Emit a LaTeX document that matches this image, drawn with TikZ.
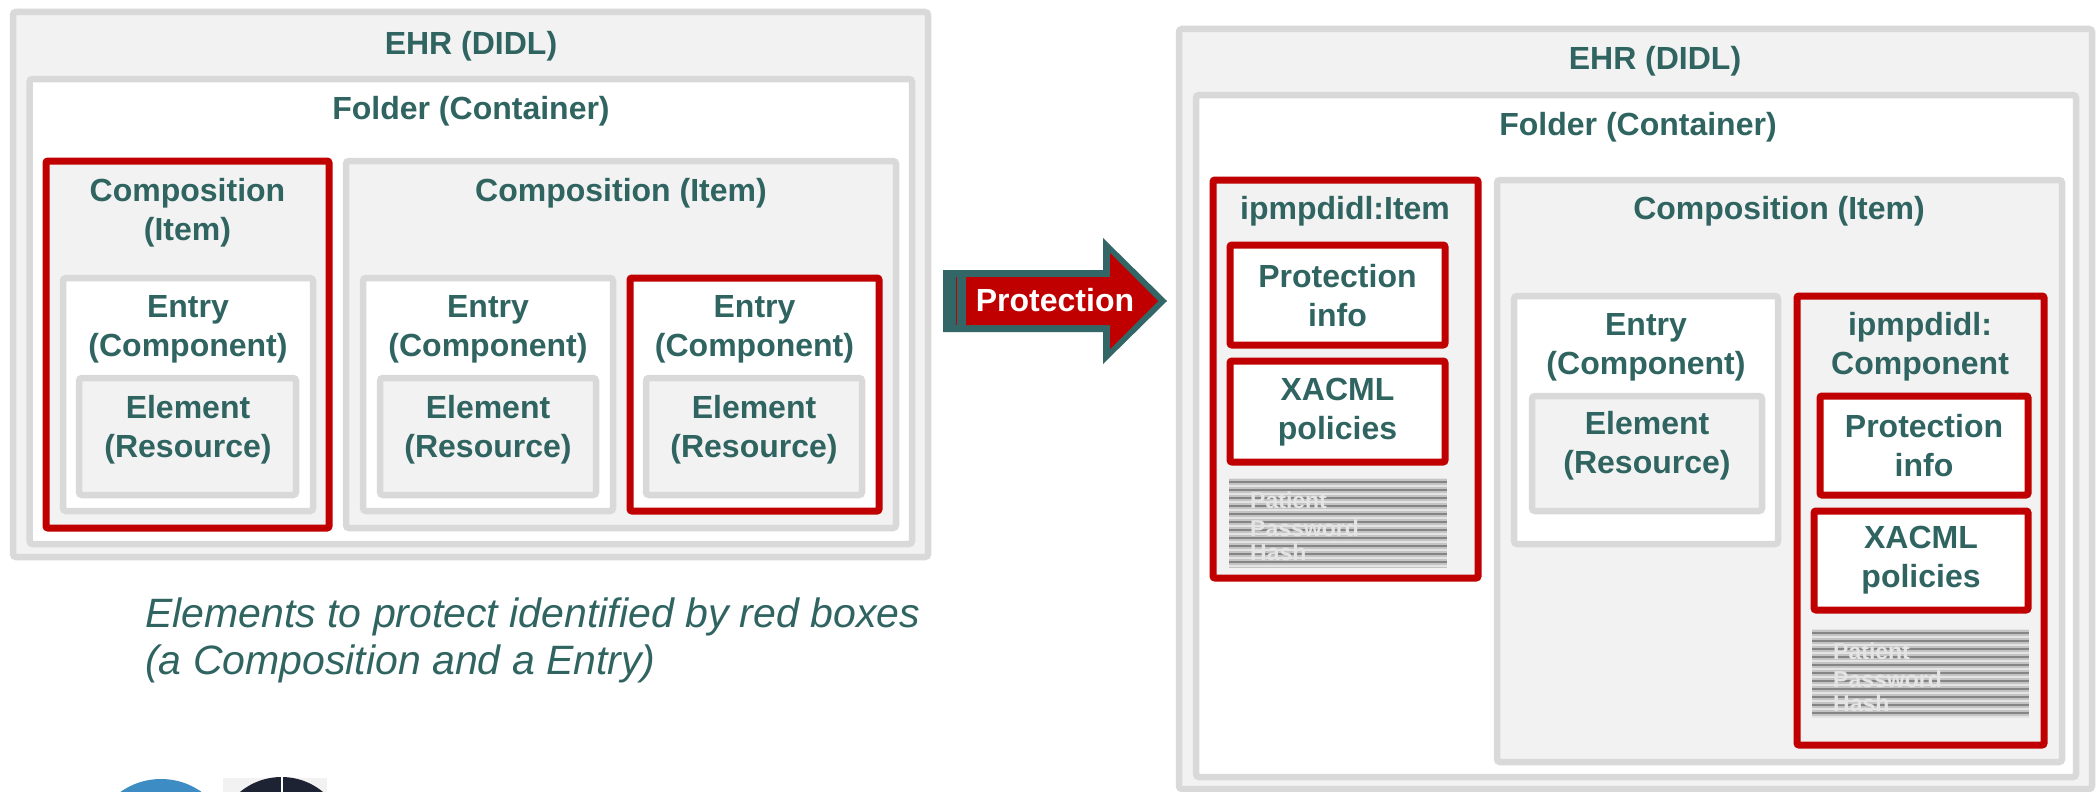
\documentclass[tikz,border=0pt]{standalone}
\usepackage{fontspec}
\setmainfont{Liberation Sans}
\definecolor{tealT}{HTML}{2F6461}
\definecolor{grayB}{HTML}{D9D9D9}
\definecolor{fillG}{HTML}{F2F2F2}
\definecolor{redB}{HTML}{C00000}
\definecolor{arrowT}{HTML}{336666}
\definecolor{logoBlue}{HTML}{3D8CC4}
\definecolor{logoDark}{HTML}{1E2333}
\definecolor{stripeBg}{HTML}{C4C4C4}
\definecolor{stripeDk}{HTML}{858585}
\definecolor{stripeLt}{HTML}{E4E4E4}
\tikzset{
  gbox/.style={draw=grayB, line width=6.5pt, rounded corners=3pt},
  rbox/.style={draw=redB, line width=7pt, rounded corners=2pt},
  lbl/.style={text=tealT, font=\bfseries\fontsize{32}{39}\selectfont, align=center, inner sep=0pt},
  capt/.style={text=tealT, font=\itshape\fontsize{41}{47}\selectfont, align=left, inner sep=0pt, anchor=west},
  stxt/.style={text=stripeLt, font=\bfseries\fontsize{23}{27}\selectfont, align=left, inner sep=0pt, anchor=west},
}
\newcommand{\stripebox}[5]{%
  \fill[stripeBg] (#2,#3) rectangle (#4,#5);
  \begin{scope}
    \clip (#2,#3) rectangle (#4,#5);
    \foreach \k in {0,...,11}{
      \draw[stripeDk, line width=2.5pt] (#2,{#3+4+8*\k}) -- (#4,{#3+4+8*\k});
      \draw[stripeLt, line width=1.5pt] (#2,{#3+8*\k}) -- (#4,{#3+8*\k});
    }
  \end{scope}
  \node[stxt] (#1a) at ({#2+21},{#3+22}) {Patient};
  \node[stxt] (#1b) at ({#2+21},{#3+50}) {Password};
  \node[stxt] (#1c) at ({#2+21},{#3+74}) {Hash};
}
\begin{document}
\begin{tikzpicture}[x=1pt,y=-1pt]
\useasboundingbox (0,0) rectangle (2098,792);
\fill[white] (0,0) rectangle (2098,792);

% ---------- left diagram ----------
\path[gbox, fill=fillG] (13,12) rectangle (928,557);
\node[lbl] (ehrL) at (471,46) {EHR (DIDL)};
\path[gbox, fill=white] (29.5,79) rectangle (912,544);
\node[lbl] (folderL) at (471,111) {Folder (Container)};

\path[rbox, fill=fillG] (46,161) rectangle (329,528);
\node[lbl] (comp1) at (187.5,212.5) {Composition\\(Item)};
\path[gbox, fill=white] (63,278) rectangle (313,511);
\node[lbl] (entry1) at (188,329) {Entry\\(Component)};
\path[gbox, fill=fillG] (79,378) rectangle (296,495);
\node[lbl] (elem1) at (188,430) {Element\\(Resource)};

\path[gbox, fill=fillG] (346,161) rectangle (896,528);
\node[lbl] (comp2) at (621,193) {Composition (Item)};
\path[gbox, fill=white] (363,278) rectangle (613,511);
\node[lbl] (entry2) at (488,329) {Entry\\(Component)};
\path[gbox, fill=fillG] (380,378) rectangle (596,495);
\node[lbl] (elem2) at (488,430) {Element\\(Resource)};

\path[rbox, fill=white] (630,278) rectangle (879,511);
\node[lbl] (entry3) at (754.5,329) {Entry\\(Component)};
\path[gbox, fill=fillG] (646,378) rectangle (862,495);
\node[lbl] (elem3) at (754,430) {Element\\(Resource)};

\node[capt] (caption) at (145,640) {Elements to protect identified by red boxes\\(a Composition and a Entry)};

% ---------- logos (cut off at bottom) ----------
\begin{scope}
  \clip (0,0) rectangle (2098,792);
  \fill[logoBlue] (161,849) circle (70);
  \fill[fillG] (223,778) rectangle (327,800);
  \fill[logoDark] (281.5,842) circle (65);
  \draw[white, line width=2pt] (282,776) -- (282,800);
\end{scope}

% ---------- arrow ----------
\fill[arrowT] (943,270) -- (1103,270) -- (1103,238) -- (1167,301) -- (1103,364) -- (1103,332) -- (943,332) -- cycle;
\fill[redB] (966,277) -- (1110,277) -- (1110,253) -- (1158,301) -- (1110,349) -- (1110,325) -- (966,325) -- cycle;
\draw[redB, line width=1.5pt] (956.5,277) -- (956.5,325);
\node[lbl, text=white] (prot) at (1055,300) {Protection};

% ---------- right diagram ----------
\path[gbox, fill=fillG] (1179,29) rectangle (2092,789);
\node[lbl] (ehrR) at (1655,61) {EHR (DIDL)};
\path[gbox, fill=white] (1196,95) rectangle (2076,777);
\node[lbl] (folderR) at (1638,127) {Folder (Container)};

\path[rbox, fill=fillG] (1213,180) rectangle (1478,578);
\node[lbl] (itemR) at (1345,211) {ipmpdidl:Item};
\path[rbox, fill=white] (1230,245) rectangle (1445,345);
\node[lbl] (protinfo1) at (1337.5,296) {Protection\\info};
\path[rbox, fill=white] (1230,361) rectangle (1445,462);
\node[lbl] (xacml1) at (1337.5,412) {XACML\\policies};
\stripebox{hashA}{1229}{478}{1447}{568}

\path[gbox, fill=fillG] (1497,180) rectangle (2062,762);
\node[lbl] (compR) at (1779,211) {Composition (Item)};
\path[gbox, fill=white] (1514,296) rectangle (1778,544);
\node[lbl] (entryR) at (1646,347) {Entry\\(Component)};
\path[gbox, fill=fillG] (1532,396) rectangle (1762,511);
\node[lbl] (elemR) at (1647,446) {Element\\(Resource)};

\path[rbox, fill=fillG] (1797,296) rectangle (2044,745);
\node[lbl] (ipcomp) at (1920,347) {ipmpdidl:\\Component};
\path[rbox, fill=white] (1820,396) rectangle (2028,495);
\node[lbl] (protinfo2) at (1924,446) {Protection\\info};
\path[rbox, fill=white] (1814,511) rectangle (2028,610);
\node[lbl] (xacml2) at (1921,560) {XACML\\policies};
\stripebox{hashB}{1812}{629}{2029}{718}
\end{tikzpicture}
\end{document}
